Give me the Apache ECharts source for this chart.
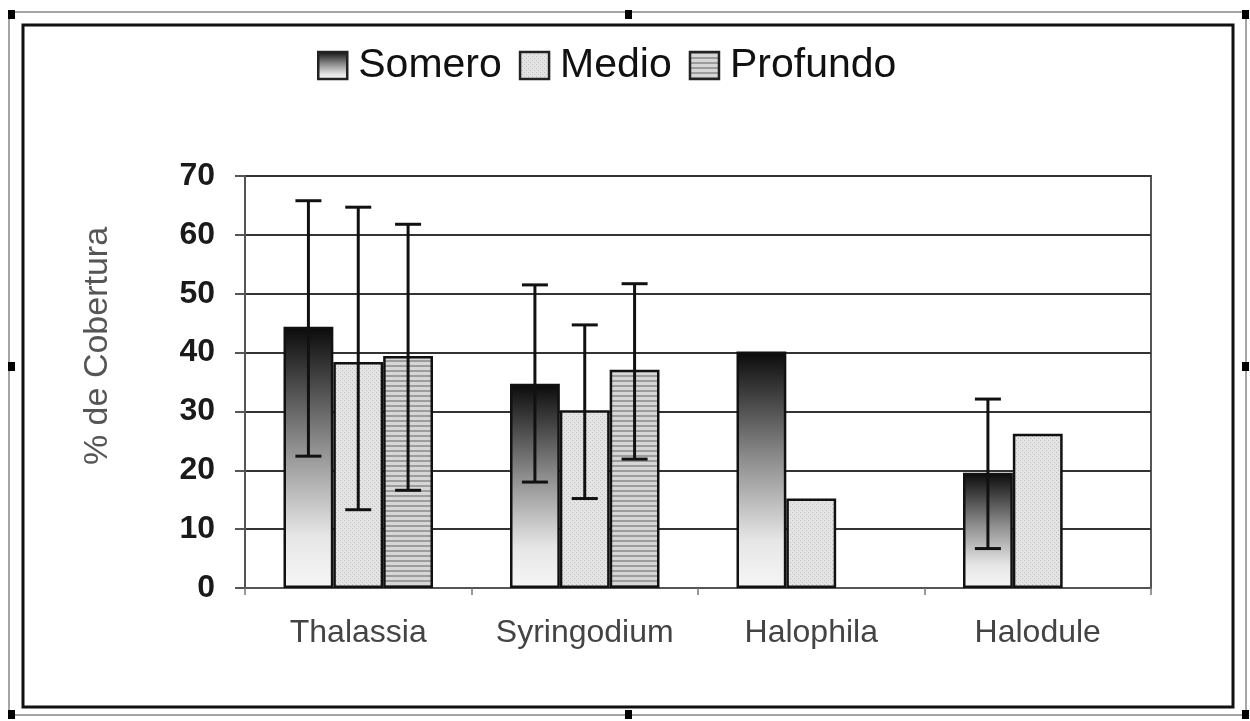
<!DOCTYPE html>
<html>
<head>
<meta charset="utf-8">
<script src="https://cdn.jsdelivr.net/npm/echarts@6/dist/echarts.min.js"></script>
<style>
html,body{margin:0;padding:0;background:#fff;}
#main{width:1250px;height:721px;}
</style>
</head>
<body>
<div id="main"></div>
<script>
// ---- data ----
var categories = ['Thalassia', 'Syringodium', 'Halophila', 'Halodule'];
var seriesNames = ['Somero', 'Medio', 'Profundo'];
var somero   = [44.4, 34.7, 40.2, 19.6];
var medio    = [38.4, 30.2, 15.2, 26.2];
var profundo = [39.4, 37.1, null, null];
var someroLow    = [22.4, 18.0, null, 6.7];
var someroHigh   = [65.8, 51.5, null, 32.1];
var medioLow     = [13.3, 15.2, null, null];
var medioHigh    = [64.7, 44.7, null, null];
var profundoLow  = [16.6, 21.9, null, null];
var profundoHigh = [61.8, 51.7, null, null];
var yTicks = [0, 10, 20, 30, 40, 50, 60, 70];

var FONT = '"Liberation Sans", Arial, sans-serif';
var CAT_GAP = 0.34;

// ---- fill patterns ----
function dotPattern() {
  var c = document.createElement('canvas');
  c.width = 4; c.height = 4;
  var g = c.getContext('2d');
  g.fillStyle = '#e4e4e4'; g.fillRect(0, 0, 4, 4);
  g.fillStyle = '#bdbdbd';
  g.fillRect(0, 0, 1, 1); g.fillRect(2, 2, 1, 1);
  return c;
}
function stripePattern() {
  var c = document.createElement('canvas');
  c.width = 4; c.height = 5;
  var g = c.getContext('2d');
  g.fillStyle = '#d6d6d6'; g.fillRect(0, 0, 4, 5);
  g.fillStyle = '#9c9c9c'; g.fillRect(0, 0, 4, 2);
  return c;
}
var someroFill = {
  type: 'linear', x: 0, y: 0, x2: 0, y2: 1,
  colorStops: [
    {offset: 0, color: '#0a0a0a'},
    {offset: 0.45, color: '#8c8c8c'},
    {offset: 0.8, color: '#e6e6e6'},
    {offset: 1, color: '#f6f6f6'}
  ]
};
var medioFill = {image: dotPattern(), repeat: 'repeat'};
var profundoFill = {image: stripePattern(), repeat: 'repeat'};

function errData(low, high) {
  var out = [];
  for (var i = 0; i < low.length; i++) {
    if (low[i] != null && high[i] != null) out.push([i, low[i], high[i]]);
  }
  return out;
}

function errSeries(idx, low, high) {
  return {
    type: 'custom',
    name: seriesNames[idx] + ' error',
    z: 10,
    silent: true,
    data: errData(low, high),
    encode: {x: 0, y: [1, 2]},
    renderItem: function (params, api) {
      var ci = api.value(0);
      var band = api.size([1, 0])[0];
      var barW = band * (1 - CAT_GAP) / 3;
      var off = (idx - 1) * barW;
      var pLow = api.coord([ci, api.value(1)]);
      var pHigh = api.coord([ci, api.value(2)]);
      var x = pLow[0] + off;
      var cap = 13;
      var st = {stroke: '#111', lineWidth: 3};
      return {
        type: 'group',
        children: [
          {type: 'line', shape: {x1: x, y1: pLow[1], x2: x, y2: pHigh[1]}, style: st},
          {type: 'line', shape: {x1: x - cap, y1: pHigh[1], x2: x + cap, y2: pHigh[1]}, style: st},
          {type: 'line', shape: {x1: x - cap, y1: pLow[1], x2: x + cap, y2: pLow[1]}, style: st}
        ]
      };
    }
  };
}

function barSeries(name, data, fill) {
  return {
    type: 'bar',
    name: name,
    data: data,
    barGap: '0%',
    barCategoryGap: (CAT_GAP * 100) + '%',
    itemStyle: {color: fill, borderColor: '#111', borderWidth: 2.5},
    emphasis: {disabled: true}
  };
}

// ---- frame decoration ----
var handles = [[8, 10], [625, 10], [1242, 10], [8, 362], [1242, 362], [8, 710], [625, 710], [1242, 710]];
var graphics = [
  {type: 'rect', shape: {x: 9, y: 12, width: 1237, height: 703}, style: {fill: 'none', stroke: '#888', lineWidth: 1.5}, z: 1},
  {type: 'rect', shape: {x: 23, y: 25, width: 1210, height: 682}, style: {fill: 'none', stroke: '#111', lineWidth: 3}, z: 1}
];
handles.forEach(function (h) {
  graphics.push({type: 'rect', shape: {x: h[0], y: h[1], width: 7, height: 9}, style: {fill: '#000'}, z: 2});
});

var chart = echarts.init(document.getElementById('main'), null, {renderer: 'canvas'});
chart.setOption({
  backgroundColor: '#fff',
  animation: false,
  textStyle: {fontFamily: FONT},
  graphic: graphics,
  legend: {
    data: seriesNames,
    top: 40,
    left: 312,
    icon: 'rect',
    itemWidth: 29,
    itemHeight: 27,
    itemGap: 17,
    itemStyle: {borderColor: '#222', borderWidth: 2.5},
    textStyle: {fontSize: 41, color: '#111', fontFamily: FONT, padding: [0, 0, 0, 6]}
  },
  grid: {left: 245, right: 99, top: 176, bottom: 133, show: true, borderColor: '#555', borderWidth: 2},
  xAxis: {
    type: 'category',
    data: categories,
    axisLine: {lineStyle: {color: '#555', width: 2}},
    axisTick: {show: true, length: 7, lineStyle: {color: '#777', width: 1.5}},
    axisLabel: {interval: 0, fontSize: 32, color: '#444', margin: 29, fontFamily: FONT}
  },
  yAxis: {
    type: 'value',
    min: yTicks[0],
    max: yTicks[yTicks.length - 1],
    interval: 10,
    name: '% de Cobertura',
    nameLocation: 'middle',
    nameGap: 130,
    nameRotate: 90,
    nameTextStyle: {fontSize: 34, color: '#555', fontFamily: FONT, padding: [0, 0, 0, 72]},
    axisLine: {show: true, lineStyle: {color: '#555', width: 2}},
    axisTick: {show: true, length: 10, lineStyle: {color: '#555', width: 2}},
    axisLabel: {fontSize: 32, fontWeight: 'bold', color: '#1a1a1a', margin: 30, fontFamily: FONT},
    splitLine: {show: true, lineStyle: {color: '#333', width: 2}}
  },
  series: [
    barSeries('Somero', somero, someroFill),
    barSeries('Medio', medio, medioFill),
    barSeries('Profundo', profundo, profundoFill),
    errSeries(0, someroLow, someroHigh),
    errSeries(1, medioLow, medioHigh),
    errSeries(2, profundoLow, profundoHigh)
  ]
});
</script>
</body>
</html>
